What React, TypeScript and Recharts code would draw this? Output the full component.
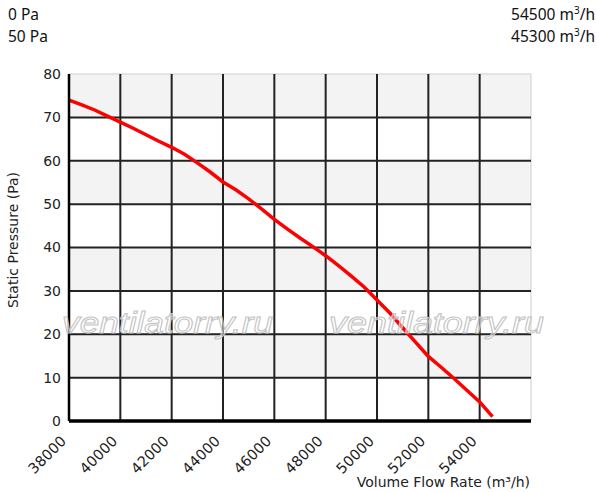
import React from "react";
import {
  LineChart,
  Line,
  XAxis,
  YAxis,
  CartesianGrid,
  ReferenceLine,
} from "recharts";

// fan curve: volume flow (m3/h) vs static pressure (Pa)
const flow = [
  38000, 38500, 39000, 39500, 40000, 40500, 41000, 41500, 42000, 42500, 43000,
  43500, 44000, 44500, 45000, 45500, 46000, 46500, 47000, 47500, 48000, 48500,
  49000, 49500, 50000, 50500, 51000, 51500, 52000, 52500, 53000, 53500, 54000,
  54500,
];
const pressure = [
  74, 72.9, 71.7, 70.3, 68.9, 67.5, 66.0, 64.5, 63.1, 61.5, 59.5, 57.4, 55.1,
  53.3, 51.2, 48.9, 46.5, 44.3, 42.2, 40.2, 38.1, 35.8, 33.4, 30.9, 27.9, 24.9,
  21.5, 18.2, 14.9, 12.4, 9.8, 7.1, 4.4, 1,
];

const xTicks = [38000, 40000, 42000, 44000, 46000, 48000, 50000, 52000, 54000];
const yTicks = [0, 10, 20, 30, 40, 50, 60, 70, 80];
const gridX = [40000, 42000, 44000, 46000, 48000, 50000, 52000, 54000];
const gridY = [10, 20, 30, 40, 50, 60, 70];

const headerLeft = ["0 Pa", "50 Pa"];
const headerRight = ["54500", "45300"];

const data = flow.map((f, i) => ({ flow: f, pressure: pressure[i] }));

const FONT = "'DejaVu Sans', sans-serif";

const XTick = (props: any) => {
  const { x, payload } = props;
  const tx = x - 2;
  const ty = 442;
  return (
    <text
      x={tx}
      y={ty}
      textAnchor="end"
      fontSize={14.5}
      fontFamily={FONT}
      fill="#222"
      transform={`rotate(-45, ${tx}, ${ty})`}
    >
      {payload.value}
    </text>
  );
};

export default function App() {
  return (
    <div
      style={{
        position: "absolute",
        left: 0,
        top: 0,
        width: 597,
        height: 492,
        background: "#fff",
        overflow: "hidden",
      }}
    >
      <LineChart
        width={597}
        height={492}
        data={data}
        margin={{ top: 74, right: 66, bottom: 21, left: 0 }}
      >
        <CartesianGrid
          stroke="none"
          horizontalFill={["#f3f3f3", "#ffffff"]}
          vertical={false}
        />
        <XAxis
          dataKey="flow"
          type="number"
          domain={[38000, 56000]}
          ticks={xTicks}
          height={50}
          tickLine={false}
          axisLine={{ stroke: "#000", strokeWidth: 3.5 }}
          tick={<XTick />}
          interval={0}
        />
        <YAxis
          type="number"
          domain={[0, 80]}
          ticks={yTicks}
          width={69}
          tickLine={false}
          axisLine={{ stroke: "#000", strokeWidth: 2.5 }}
          tick={{ fontSize: 14, fontFamily: FONT, fill: "#222" }}
          interval={0}
        />
        <ReferenceLine y={80} stroke="#dcdcdc" strokeWidth={1.5} />
        <ReferenceLine x={56000} stroke="#dcdcdc" strokeWidth={1.5} />
        {gridY.map((v) => (
          <ReferenceLine key={"y" + v} y={v} stroke="#222" strokeWidth={2} />
        ))}
        {gridX.map((v) => (
          <ReferenceLine key={"x" + v} x={v} stroke="#222" strokeWidth={2} />
        ))}
        <Line
          dataKey="pressure"
          type="linear"
          stroke="#ff0000"
          strokeWidth={3.5}
          dot={false}
          isAnimationActive={false}
        />
      </LineChart>

      <svg
        width={597}
        height={492}
        style={{ position: "absolute", left: 0, top: 0, pointerEvents: "none" }}
      >
        <g
          fontFamily="'Liberation Sans', Arial, sans-serif"
          fontStyle="italic"
          fontSize={30}
          fill="rgba(255,255,255,0.45)"
          stroke="#c4c4c4"
          strokeWidth={1}
        >
          <text x={62} y={333} textLength={211} lengthAdjust="spacingAndGlyphs">
            ventilatorry.ru
          </text>
          <text x={329} y={333} textLength={215} lengthAdjust="spacingAndGlyphs">
            ventilatorry.ru
          </text>
        </g>
        <text
          x={0}
          y={0}
          transform="translate(18, 240) rotate(-90)"
          textAnchor="middle"
          fontSize={14}
          fontFamily={FONT}
          fill="#222"
        >
          Static Pressure (Pa)
        </text>
        <text
          x={530}
          y={487}
          textAnchor="end"
          fontSize={14}
          fontFamily={FONT}
          fill="#222"
        >
          Volume Flow Rate (m³/h)
        </text>
        <g fontFamily="'Noto Sans', sans-serif" fontSize={15.5} fill="#111">
          {headerLeft.map((t, i) => (
            <text key={t} x={8} y={20 + i * 22}>
              {t}
            </text>
          ))}
          {headerRight.map((t, i) => (
            <text key={t} x={595} y={20 + i * 22} textAnchor="end">
              {t} m<tspan dy={-6} fontSize={10}>3</tspan>
              <tspan dy={6}>/h</tspan>
            </text>
          ))}
        </g>
      </svg>
    </div>
  );
}
